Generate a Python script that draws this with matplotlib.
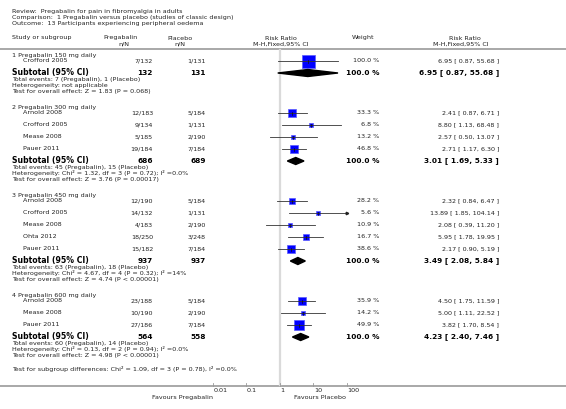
import matplotlib
matplotlib.use('Agg')
import matplotlib.pyplot as plt
from matplotlib.patches import Polygon
import numpy as np

# ---- data ----
title_lines = ['Review:  Pregabalin for pain in fibromyalgia in adults',
               'Comparison:  1 Pregabalin versus placebo (studies of classic design)',
               'Outcome:  13 Participants experiencing peripheral oedema']

group_names = ['1 Pregabalin 150 mg daily', '2 Pregabalin 300 mg daily',
               '3 Pregabalin 450 mg daily', '4 Pregabalin 600 mg daily']

study_names = [['Crofford 2005'],
               ['Arnold 2008', 'Crofford 2005', 'Mease 2008', 'Pauer 2011'],
               ['Arnold 2008', 'Crofford 2005', 'Mease 2008', 'Ohta 2012', 'Pauer 2011'],
               ['Arnold 2008', 'Mease 2008', 'Pauer 2011']]
preg_nN = [['7/132'],
           ['12/183', '9/134', '5/185', '19/184'],
           ['12/190', '14/132', '4/183', '18/250', '15/182'],
           ['23/188', '10/190', '27/186']]
plac_nN = [['1/131'],
           ['5/184', '1/131', '2/190', '7/184'],
           ['5/184', '1/131', '2/190', '3/248', '7/184'],
           ['5/184', '2/190', '7/184']]
weights = [[100.0],
           [33.3, 6.8, 13.2, 46.8],
           [28.2, 5.6, 10.9, 16.7, 38.6],
           [35.9, 14.2, 49.9]]
rr = [[6.95], [2.41, 8.80, 2.57, 2.71], [2.32, 13.89, 2.08, 5.95, 2.17], [4.50, 5.00, 3.82]]
rr_lo = [[0.87], [0.87, 1.13, 0.50, 1.17], [0.84, 1.85, 0.39, 1.78, 0.90], [1.75, 1.11, 1.70]]
rr_hi = [[55.68], [6.71, 68.48, 13.07, 6.30], [6.47, 104.14, 11.20, 19.95, 5.19], [11.59, 22.52, 8.54]]

sub_preg_n = [132, 686, 937, 564]
sub_plac_n = [131, 689, 937, 558]
sub_rr = [6.95, 3.01, 3.49, 4.23]
sub_lo = [0.87, 1.69, 2.08, 2.40]
sub_hi = [55.68, 5.33, 5.84, 7.46]
sub_notes = [['Total events: 7 (Pregabalin), 1 (Placebo)',
              'Heterogeneity: not applicable',
              'Test for overall effect: Z = 1.83 (P = 0.068)'],
             ['Total events: 45 (Pregabalin), 15 (Placebo)',
              'Heterogeneity: Chi² = 1.32, df = 3 (P = 0.72); I² =0.0%',
              'Test for overall effect: Z = 3.76 (P = 0.00017)'],
             ['Total events: 63 (Pregabalin), 18 (Placebo)',
              'Heterogeneity: Chi² = 4.67, df = 4 (P = 0.32); I² =14%',
              'Test for overall effect: Z = 4.74 (P < 0.00001)'],
             ['Total events: 60 (Pregabalin), 14 (Placebo)',
              'Heterogeneity: Chi² = 0.13, df = 2 (P = 0.94); I² =0.0%',
              'Test for overall effect: Z = 4.98 (P < 0.00001)']]
subgroup_test = 'Test for subgroup differences: Chi² = 1.09, df = 3 (P = 0.78), I² =0.0%'

tick_vals = [0.01, 0.1, 1, 10, 100]
tick_labels = ['0.01', '0.1', '1', '10', '100']

# ---- figure in pixel coordinates ----
W, H = 566, 409
fig = plt.figure(figsize=(W / 100, H / 100), dpi=100)
ax = fig.add_axes([0, 0, 1, 1])
ax.set_xlim(0, W)
ax.set_ylim(H, 0)
ax.axis('off')

# forest panel: log scale between 0.01 and 100
x0, x1 = 213, 346.5
axf = fig.add_axes([x0 / W, 0, (x1 - x0) / W, 1])
axf.set_xscale('log')
axf.set_xlim(0.01, 100)
axf.set_ylim(H, 0)
axf.axis('off')
axf.patch.set_alpha(0)

fs = 4.55
fsb = 5.3
tc = '#222222'

def txt(x, y, s, ha='left', bold=False, size=None):
    ax.text(x, y, s, ha=ha, va='center', color='black' if bold else tc,
            fontsize=size or (fsb if bold else fs),
            fontweight='bold' if bold else 'normal')

for i, s in enumerate(title_lines):
    txt(12, 11.5 + i * 6, s)

# header
txt(12, 38, 'Study or subgroup')
txt(120, 38, 'Pregabalin', ha='center')
txt(124, 44, 'n/N', ha='center')
txt(180, 38, 'Placebo', ha='center')
txt(180, 44, 'n/N', ha='center')
txt(281, 38, 'Risk Ratio', ha='center')
txt(281, 44, 'M-H,Fixed,95% CI', ha='center')
txt(363, 38, 'Weight', ha='center')
txt(465, 38, 'Risk Ratio', ha='center')
txt(461, 44, 'M-H,Fixed,95% CI', ha='center')
ax.plot([0, W], [49, 49], color='#999999', lw=1.2)

# reference line at RR = 1
axf.plot([1, 1], [50, 385], color='#dadada', lw=1.6, zorder=0)

y = 55
for g in range(len(group_names)):
    txt(12, y, group_names[g])
    y += 6
    for k in range(len(study_names[g])):
        txt(23, y, study_names[g][k])
        txt(153, y, preg_nN[g][k], ha='right')
        txt(206, y, plac_nN[g][k], ha='right')
        txt(379, y, '%.1f %%' % weights[g][k], ha='right')
        txt(499, y, '%.2f [ %.2f, %.2f ]' % (rr[g][k], rr_lo[g][k], rr_hi[g][k]), ha='right')
        hi = min(rr_hi[g][k], 100)
        lo = max(rr_lo[g][k], 0.01)
        axf.plot([lo, hi], [y, y], color='#333333', lw=0.6, zorder=2)
        if rr_hi[g][k] > 100:
            axf.plot([100], [y], marker='>', ms=1.8, color='#222222', clip_on=False, zorder=3)
        side = 13 * np.sqrt(weights[g][k] / 100) * 0.72
        side = max(side, 2.6)
        axf.scatter([rr[g][k]], [y], marker='s', s=side ** 2, color='#0000ff',
                    edgecolors='#5a5aff', linewidths=0.5, zorder=1, clip_on=False)
        axf.plot([rr[g][k], rr[g][k]], [y - 1.5, y + 1.5], color='#111111', lw=0.5, zorder=3)
        y += 12
    txt(12, y, 'Subtotal (95% CI)', bold=True, size=5.6)
    txt(153, y, str(sub_preg_n[g]), ha='right', bold=True)
    txt(206, y, str(sub_plac_n[g]), ha='right', bold=True)
    txt(379, y, '100.0 %', ha='right', bold=True)
    txt(499, y, '%.2f [ %.2f, %.2f ]' % (sub_rr[g], sub_lo[g], sub_hi[g]), ha='right', bold=True)
    axf.add_patch(Polygon([[sub_lo[g], y], [sub_rr[g], y - 3.5], [sub_hi[g], y],
                           [sub_rr[g], y + 3.5]], closed=True, color='black', zorder=3))
    for note in sub_notes[g]:
        y += 6
        txt(12, y, note)
    y += 16

txt(12, y - 2, subgroup_test)

# x axis
ax.plot([0, W], [385.5, 385.5], color='#999999', lw=1.2)
for v, lab in zip(tick_vals, tick_labels):
    axf.plot([v, v], [383, 385.5], color='#999999', lw=0.6, clip_on=False)
    axf.text(v * 1.05, 390.5, lab, ha='left', va='center', fontsize=fs, color=tc, clip_on=False)
txt(213, 397.5, 'Favours Pregabalin', ha='right')
txt(346, 397.5, 'Favours Placebo', ha='right')

fig.savefig('out.png', dpi=100)
